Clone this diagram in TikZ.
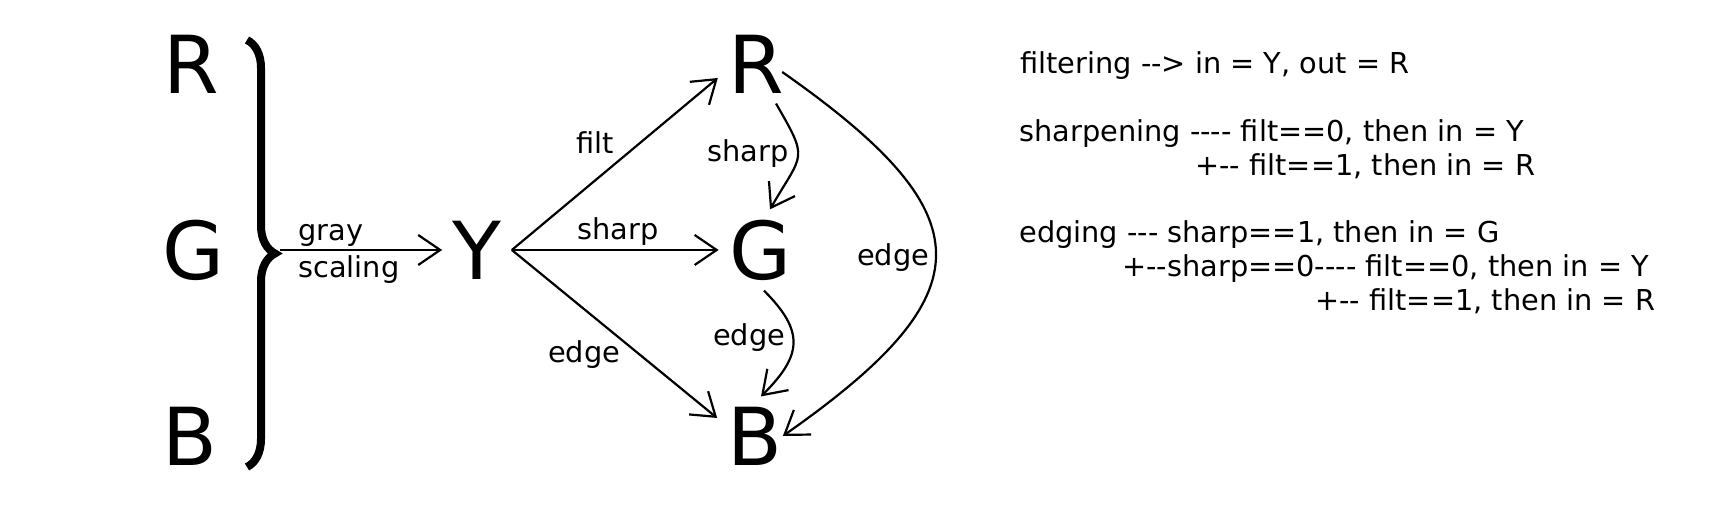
\documentclass[tikz,border=0pt]{standalone}
\usepackage{fontspec}
\usepackage{tikz}
\usetikzlibrary{arrows.meta,decorations.pathreplacing,positioning}
\newfontfamily\dejavu{DejaVu Sans}
\definecolor{ink}{HTML}{000000}

\begin{document}
\begin{tikzpicture}[x=0.5pt, y=0.5pt,
  every node/.style={font=\dejavu\fontsize{14.4}{17}\selectfont, inner sep=0pt, text=ink},
  chan/.style={font=\dejavu\fontsize{40}{48}\selectfont, inner sep=5pt},
  arr/.style={draw=ink, -{Straight Barb[length=11pt,width=15pt]}, line width=1.1pt},
  brc/.style={draw=ink, decorate, decoration={brace, amplitude=14pt}, line width=4pt},
  note/.style={anchor=base west}]
\useasboundingbox (0,0) rectangle (1729,512);
% input channels
\node[chan] (R1) at (191,448) {R};
\node[chan] (G1) at (193,262) {G};
\node[chan] (B1) at (190,76) {B};
% brace round the three channels
\coordinate (bt) at (247,472);
\coordinate (bb) at (247,45);
\coordinate (tip) at (280,262);
\draw[brc] (bt) -- (bb);
% gray scaling
\node[chan] (Y) at (477,262) {Y};
\draw[arr] (tip) -- (Y);
\node[note] (gray) at (298,271) {gray};
\node[note] (scal) at (298,234) {scaling};
% output channels
\node[chan] (R2) at (756,448) {R};
\node[chan] (G2) at (760,262) {G};
\node[chan] (B2) at (755,76) {B};
% from Y
\draw[arr] (Y.east) -- ([yshift=-7pt]R2.west);
\draw[arr] (Y.east) -- (G2.west);
\draw[arr] (Y.east) -- ([yshift=9pt]B2.west);
\node (filt) at (595,369) {filt};
\node (sh1) at (618,280) {sharp};
\node (ed1) at (584,157) {edge};
% between the outputs
\draw[arr] ([xshift=10pt]R2.south) to[out=-60, in=60, looseness=1.6] ([xshift=5pt]G2.north);
\draw[arr] ([xshift=2pt]G2.south) to[out=-45, in=45, looseness=1.4] ([xshift=3pt]B2.north);
\draw[arr] ([shift={(-6pt,-4pt)}]R2.east) to[out=-35, in=35, looseness=1.75] ([xshift=-5pt]B2.east);
\node (sh2) at (748,358) {sharp};
\node (ed2) at (749,174) {edge};
\node (ed3) at (893,254) {edge};
% notes on the right
\node[note] (n1) at (1020,438) {filtering --> in = Y, out = R};
\node[note] (n2) at (1019,370) {sharpening ---- filt==0, then in = Y};
\node[note] (n3) at (1195,336) {+-- filt==1, then in = R};
\node[note] (n4) at (1019,269) {edging --- sharp==1, then in = G};
\node[note] (n5) at (1122,235) {+--sharp==0---- filt==0, then in = Y};
\node[note] (n6) at (1315,201) {+-- filt==1, then in = R};
\end{tikzpicture}
\end{document}
